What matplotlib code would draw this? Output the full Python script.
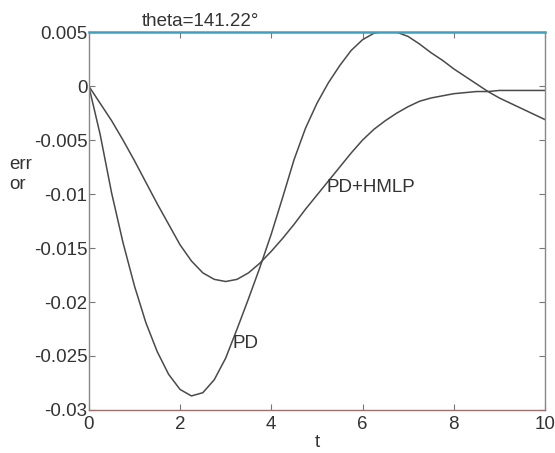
import matplotlib
matplotlib.use("Agg")
import matplotlib.pyplot as plt

# time axis and the two error curves
t = [0.0, 0.25, 0.5, 0.75, 1.0, 1.25, 1.5, 1.75, 2.0, 2.25, 2.5, 2.75, 3.0, 3.25,
     3.5, 3.75, 4.0, 4.25, 4.5, 4.75, 5.0, 5.25, 5.5, 5.75, 6.0, 6.25, 6.5, 6.75,
     7.0, 7.25, 7.5, 7.75, 8.0, 8.25, 8.5, 8.75, 9.0, 9.25, 9.5, 9.75, 10.0]

err_pd = [0.0, -0.0045, -0.0099, -0.0145, -0.0185, -0.0219, -0.0246, -0.0267,
          -0.0281, -0.0287, -0.0284, -0.0272, -0.0252, -0.0225, -0.0197, -0.0168,
          -0.0137, -0.0103, -0.0068, -0.0039, -0.0016, 0.0003, 0.0019, 0.0033,
          0.0043, 0.0049, 0.0051, 0.0050, 0.0046, 0.0039, 0.0031, 0.0024, 0.0016,
          0.0009, 0.0002, -0.0005, -0.0011, -0.0016, -0.0021, -0.0026, -0.0031]

err_hmlp = [0.0, -0.0016, -0.0032, -0.0050, -0.0069, -0.0089, -0.0109, -0.0128,
            -0.0147, -0.0162, -0.0173, -0.0179, -0.0181, -0.0179, -0.0173, -0.0164,
            -0.0153, -0.0141, -0.0128, -0.0114, -0.0101, -0.0088, -0.0075, -0.0062,
            -0.0050, -0.0040, -0.0032, -0.0025, -0.0019, -0.0014, -0.0011, -0.0009,
            -0.0007, -0.0006, -0.0005, -0.0005, -0.0004, -0.0004, -0.0004, -0.0004,
            -0.0004]

x_ticks = [0, 2, 4, 6, 8, 10]
y_ticks = [0.005, 0, -0.005, -0.01, -0.015, -0.02, -0.025, -0.03]
y_tick_labels = ["0.005", "0", "-0.005", "-0.01", "-0.015", "-0.02", "-0.025", "-0.03"]

plt.rcParams["font.family"] = ["Liberation Sans", "DejaVu Sans"]
FS = 13.5
TXT = "#333333"

fig = plt.figure(figsize=(5.55, 4.53), dpi=100)
ax = fig.add_axes([0.160, 0.095, 0.822, 0.834])

line_c = "#4a4a4a"
ax.plot(t, err_pd, color=line_c, linewidth=1.1)
ax.plot(t, err_hmlp, color=line_c, linewidth=1.1)

ax.set_xlim(0, 10)
ax.set_ylim(-0.03, 0.005)
ax.set_xticks(x_ticks)
ax.set_yticks(y_ticks)
ax.set_yticklabels(y_tick_labels)
ax.tick_params(direction="in", top=True, right=True, length=4, width=0.8,
               colors="#777777", labelcolor=TXT, labelsize=FS)
ax.tick_params(axis="y", pad=1)
ax.tick_params(axis="x", pad=4)

for name, spine in ax.spines.items():
    spine.set_color("#888888")
    spine.set_linewidth(1.0)
ax.spines["top"].set_color("#3f9fc0")
ax.spines["top"].set_linewidth(1.8)
ax.spines["bottom"].set_color("#9a7070")

ax.set_xlabel("t", fontsize=FS, color=TXT, labelpad=1)
fig.text(0.016, 0.615, "err\nor", fontsize=FS, color=TXT,
         ha="left", va="center", linespacing=1.2)

ax.text(2.45, 0.0052, "theta=141.22°", fontsize=FS, color=TXT,
        ha="center", va="bottom")
ax.text(3.15, -0.0238, "PD", fontsize=FS, color=TXT, ha="left", va="center")
ax.text(5.2, -0.0094, "PD+HMLP", fontsize=FS, color=TXT, ha="left", va="center")

fig.savefig("out.png", dpi=100)
